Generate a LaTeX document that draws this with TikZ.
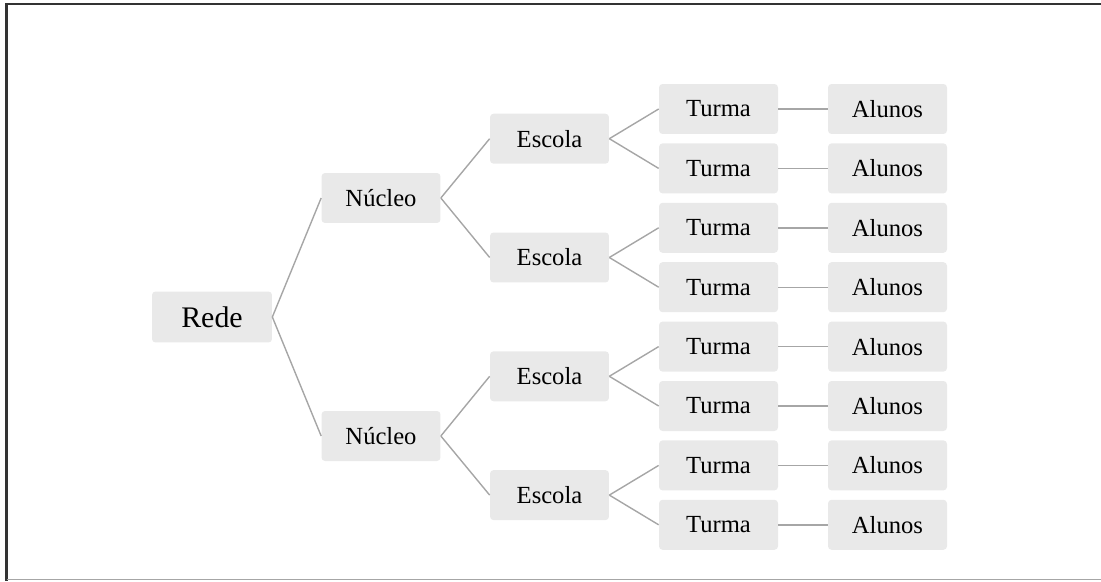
\documentclass[tikz,border=0pt]{standalone}
\usepackage{fontspec}
\setmainfont{Liberation Serif}
\usepackage{tikz}

\definecolor{boxgray}{HTML}{E9E9E9}
\definecolor{linegray}{HTML}{A6A6A6}

\begin{document}
\begin{tikzpicture}[x=0.02cm,y=-0.02cm,
  box/.style={fill=boxgray,rounded corners=2pt,minimum width=2.38cm,minimum height=1cm,inner sep=0pt,font=\fontsize{14}{16}\selectfont},
  link/.style={draw=linegray,line width=0.8pt}]
\useasboundingbox (0,0) rectangle (1101,581);

% frame
\draw[line width=1.2pt,black!80] (1101,4) -- (6.5,4) -- (6.5,581);
\draw[linegray,line width=1pt] (6.5,579.5) -- (1101,579.5);

% root
\node[box,minimum width=2.4cm,minimum height=1.02cm,font=\fontsize{17}{20}\selectfont] (rede) at (212,317) {Rede};

\node[box] (n1) at (381,198) {Núcleo};
\node[box] (n2) at (381,436) {Núcleo};
\draw[link] (rede.east) -- (n1.west);
\draw[link] (rede.east) -- (n2.west);

% schools
\foreach \i/\y/\p in {1/138.7/n1,2/257.5/n1,3/376.3/n2,4/495.1/n2}
{
  \node[box] (e\i) at (549.5,\y) {Escola};
  \draw[link] (\p.east) -- (e\i.west);
}

% classes and students
\foreach \k in {1,...,8}
{
  \pgfmathsetmacro{\y}{109+59.4*(\k-1)}
  \pgfmathtruncatemacro{\e}{(\k+1)/2}
  \node[box] (t\k) at (718.5,\y) {Turma};
  \node[box] (a\k) at (887.5,\y) {Alunos};
  \draw[link] (e\e.east) -- (t\k.west);
  \draw[link] (t\k) -- (a\k);
}

\end{tikzpicture}
\end{document}
